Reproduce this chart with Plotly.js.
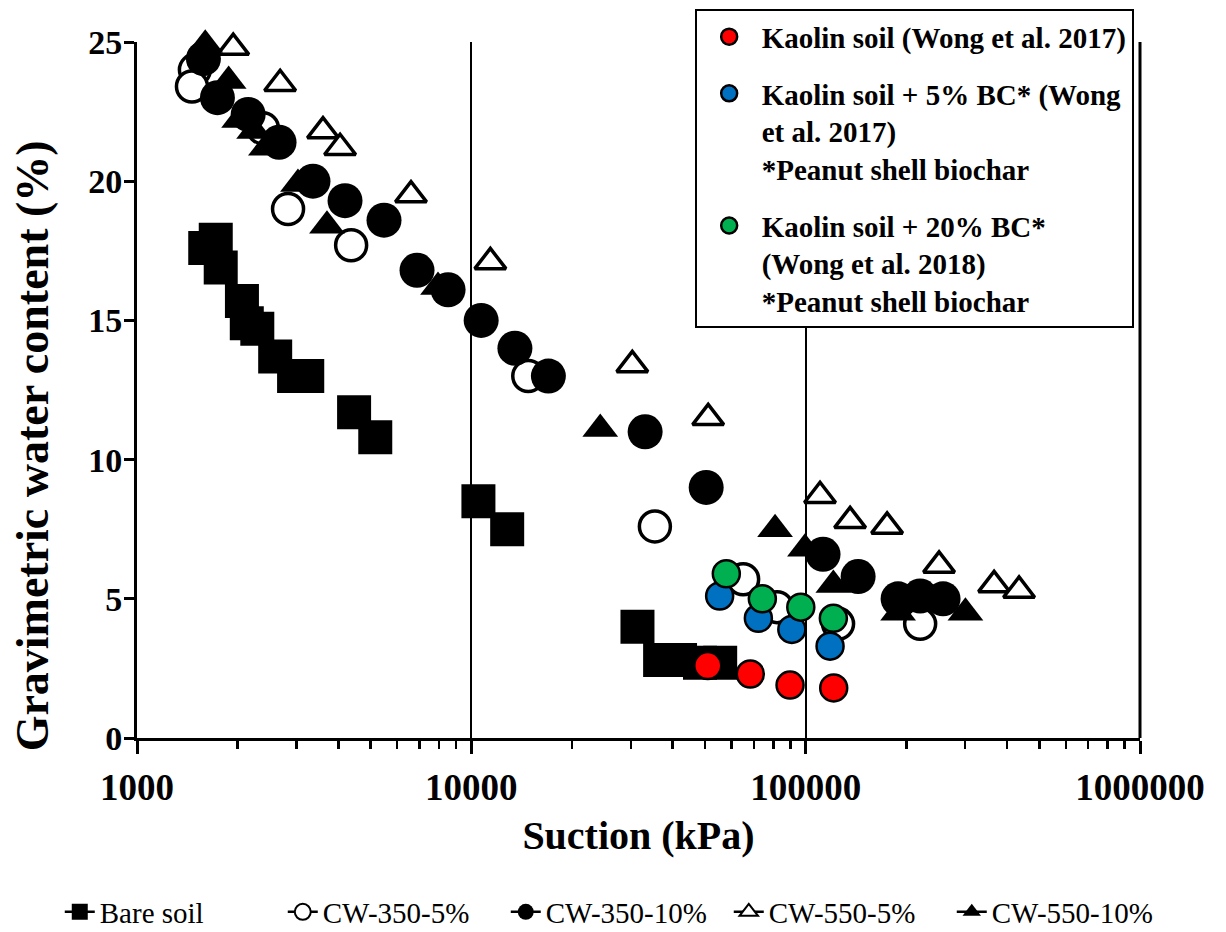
<!DOCTYPE html>
<html><head><meta charset="utf-8">
<script src="https://cdn.plot.ly/plotly-3.0.1.min.js"></script>
<style>body{margin:0;background:#fff}#chart{width:1226px;height:932px}</style>
</head><body><div id="chart"></div>
<script>
// ---- data (suction in kPa, gravimetric water content in %) ----
const bareSoilX = [1600, 1720, 1780, 2060, 2130, 2290, 2590, 2950, 3230, 4460, 5160, 10500, 12800, 31400, 36700, 42100, 48300, 55500];
const bareSoilY = [17.6, 17.9, 16.9, 15.7, 14.9, 14.7, 13.7, 13.0, 13.0, 11.7, 10.8, 8.5, 7.5, 4.0, 2.8, 2.8, 2.7, 2.7];

const cw350_5X = [1490, 1460, 2380, 2830, 4370, 14800, 35400, 65000, 82100, 125000, 220000];
const cw350_5Y = [24.0, 23.4, 21.9, 19.0, 17.7, 13.0, 7.6, 5.7, 4.7, 4.1, 4.1];

const cw350_10X = [1580, 1740, 2150, 2660, 3360, 4190, 5480, 6880, 8520, 10700, 13500, 17000, 33100, 50400, 112700, 143500, 189000, 220000, 257600];
const cw350_10Y = [24.4, 23.0, 22.4, 21.4, 20.0, 19.3, 18.6, 16.8, 16.1, 15.0, 14.0, 13.0, 11.0, 9.0, 6.6, 5.8, 5.0, 5.1, 5.0];

const cw550_5X = [1940, 2680, 3600, 4050, 6600, 11400, 30300, 51100, 110400, 135800, 175200, 250600, 366100, 434800];
const cw550_5Y = [24.8, 23.5, 21.8, 21.2, 19.5, 17.1, 13.4, 11.5, 8.7, 7.8, 7.6, 6.2, 5.5, 5.3];

const cw550_10X = [1600, 1880, 2020, 2240, 2430, 3030, 3700, 7950, 24300, 81000, 99500, 121000, 189000, 300500];
const cw550_10Y = [24.9, 23.6, 22.2, 21.8, 21.2, 19.9, 18.4, 16.2, 11.1, 7.5, 6.8, 5.5, 4.5, 4.5];

const kaolinX = [50950, 68300, 89800, 121300];
const kaolinY = [2.6, 2.3, 1.9, 1.8];
const bc5X = [55300, 72200, 90900, 118300];
const bc5Y = [5.1, 4.3, 3.9, 3.3];
const bc20X = [57900, 74200, 96700, 121000];
const bc20Y = [5.9, 5.0, 4.7, 4.3];

const xTickVals = [1000, 10000, 100000, 1000000];
const xTickText = ['1000', '10000', '100000', '1000000'];
const yTickVals = [0, 5, 10, 15, 20, 25];

const seriesNames = ['Bare soil', 'CW-350-5%', 'CW-350-10%', 'CW-550-5%', 'CW-550-10%'];
const refNames = [
  'Kaolin soil (Wong et al. 2017)',
  'Kaolin soil + 5% BC* (Wong<br>et al. 2017)<br>*Peanut shell biochar',
  'Kaolin soil + 20% BC*<br>(Wong et al. 2018)<br>*Peanut shell biochar'
];
const xTitle = 'Suction (kPa)';
const yTitle = 'Gravimetric water content (%)';

// ---- styling ----
const FONT = 'Liberation Serif, Times New Roman, serif';
const minorVals = [];
for (let d = 1000; d < 1000000; d *= 10) for (let k = 2; k <= 9; k++) minorVals.push(d * k);

const blackStyles = [
  {symbol: 'square', size: 34, color: 'black', line: {width: 0}},
  {symbol: 'circle', size: 31, color: 'white', line: {color: 'black', width: 3.5}},
  {symbol: 'circle', size: 35, color: 'black', line: {width: 0}},
  {symbol: 'triangle-up', size: 27, color: 'white', line: {color: 'black', width: 3.5}},
  {symbol: 'triangle-up', size: 31, color: 'black', line: {width: 0}}
];
const blackData = [[bareSoilX, bareSoilY], [cw350_5X, cw350_5Y], [cw350_10X, cw350_10Y], [cw550_5X, cw550_5Y], [cw550_10X, cw550_10Y]];

const traces = [];
blackData.forEach((d, i) => {
  traces.push({type: 'scatter', mode: 'markers', name: seriesNames[i], x: d[0], y: d[1],
    marker: blackStyles[i], showlegend: false, cliponaxis: false, hoverinfo: 'x+y'});
});
// legend entries for the black series (line through marker, like the original)
blackData.forEach((d, i) => {
  const m = Object.assign({}, blackStyles[i], {size: 16});
  if (m.line && m.line.width) m.line = {color: 'black', width: 2};
  traces.push({type: 'scatter', mode: 'lines+markers', name: seriesNames[i], x: [null], y: [null],
    line: {color: 'black', width: 2.5}, marker: m, legend: 'legend', showlegend: true});
});
const refData = [[kaolinX, kaolinY, '#ff0000'], [bc5X, bc5Y, '#0070c0'], [bc20X, bc20Y, '#00b050']];
refData.forEach((d, i) => {
  traces.push({type: 'scatter', mode: 'markers', name: refNames[i], x: d[0], y: d[1],
    marker: {symbol: 'circle', size: 27, color: d[2], line: {color: 'black', width: 2.5}},
    legend: 'legend2', legendgroup: 'g' + i, cliponaxis: false});
});

const layout = {
  width: 1226, height: 932,
  margin: {l: 137, r: 86, t: 42, b: 194, autoexpand: false},
  paper_bgcolor: 'white', plot_bgcolor: 'white',
  font: {family: FONT, color: 'black'},
  xaxis: {
    type: 'log', range: [3, 6], tickmode: 'array', tickvals: xTickVals, ticktext: xTickText,
    showline: true, linecolor: 'black', linewidth: 3,
    ticks: 'outside', ticklen: 13, tickwidth: 3, tickcolor: 'black',
    showgrid: true, gridcolor: 'black', gridwidth: 2, zeroline: false,
    minor: {tickmode: 'array', tickvals: minorVals, ticks: 'outside', ticklen: 8, tickwidth: 2.5, tickcolor: 'black', showgrid: false},
    tickfont: {family: FONT, size: 37, weight: 'bold', color: 'black'},
    ticklabelstandoff: 2,
    automargin: false,
    title: {text: xTitle, font: {family: FONT, size: 40, weight: 'bold', color: 'black'}, standoff: 14}
  },
  yaxis: {
    range: [0, 25], tickmode: 'array', tickvals: yTickVals,
    showline: true, linecolor: 'black', linewidth: 3,
    ticks: 'outside', ticklen: 10, tickwidth: 3, tickcolor: 'black',
    showgrid: false, zeroline: false, automargin: false,
    ticklabelstandoff: -5,
    tickfont: {family: FONT, size: 34, weight: 'bold', color: 'black'}
  },
  annotations: [
    {text: yTitle, textangle: -90, xref: 'paper', yref: 'paper', x: -0.104, y: 0.42,
     xanchor: 'center', yanchor: 'middle', showarrow: false,
     font: {family: FONT, size: 46, weight: 'bold', color: 'black'}}
  ],
  shapes: [
    {type: 'line', xref: 'paper', yref: 'paper', x0: 1, x1: 1, y0: 0, y1: 1, line: {color: 'black', width: 3}}
  ],
  legend: {
    orientation: 'h', x: -0.077, xanchor: 'left', y: -0.25, yanchor: 'middle',
    font: {family: FONT, size: 29, color: 'black'},
    entrywidth: 178, entrywidthmode: 'pixels', itemwidth: 30, bgcolor: 'rgba(0,0,0,0)'
  },
  legend2: {
    x: 0.556, xanchor: 'left', y: 1.047, yanchor: 'top',
    font: {family: FONT, size: 29, weight: 'bold', color: 'black'},
    bordercolor: 'black', borderwidth: 2, bgcolor: 'white',
    valign: 'top', itemwidth: 55, tracegroupgap: 16, traceorder: 'grouped'
  }
};

Plotly.newPlot('chart', traces, layout, {displayModeBar: false, staticPlot: true});
</script>
</body></html>
